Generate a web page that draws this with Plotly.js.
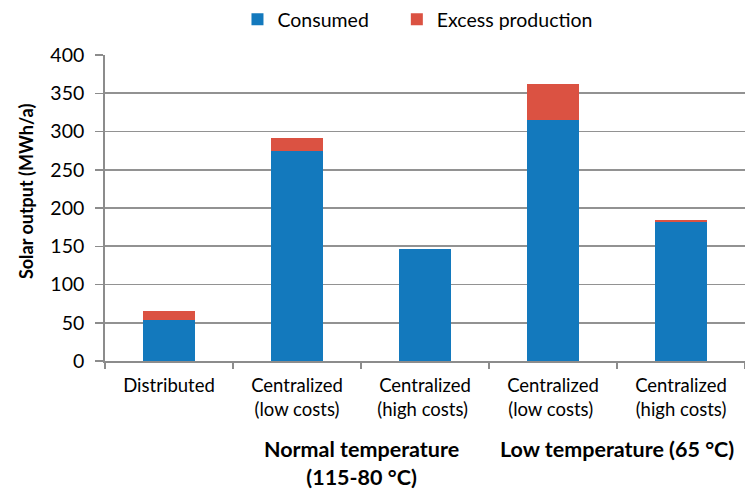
<!DOCTYPE html>
<html>
<head>
<meta charset="utf-8">
<script src="https://cdn.plot.ly/plotly-3.0.1.min.js"></script>
<style>html,body{margin:0;padding:0;background:#fff}#chart{width:745px;height:489px}</style>
</head>
<body>
<div id="chart"></div>
<script>
const categories = ["Distributed", "Centralized<br>(low costs)", "Centralized<br>(high costs) ", "Centralized<br>(low costs) ", "Centralized<br>(high costs)"];
const consumed = [53, 275, 147, 315, 182];
const excess = [12, 17, 0, 47, 2];
const groupLabels = ["Normal temperature<br>(115-80 °C)", "Low temperature (65 °C)"];
const groupPositions = [1.5, 3.5];
const yTitle = "Solar output (MWh/a)";

const FONT = "Lato, 'Open Sans', sans-serif";

const traces = [
  {type: "bar", name: "Consumed", x: categories, y: consumed, marker: {color: "#1379BD"}, legend: "legend"},
  {type: "bar", name: "Excess production", x: categories, y: excess, marker: {color: "#DB5242"}, legend: "legend2"}
];

const annotations = groupLabels.map((t, i) => ({
  text: "<b>" + t + "</b>", x: groupPositions[i], xref: "x", y: 0, yref: "paper",
  yshift: -73, yanchor: "top", showarrow: false, font: {size: 21.5}, align: "center"
}));
annotations.push({
  text: "<b>" + yTitle + "</b>", textangle: -90, x: 0, xref: "paper", xshift: -79,
  y: 0.552, yref: "paper", showarrow: false, font: {size: 18}, xanchor: "center", yanchor: "middle"
});

const legendCommon = {orientation: "h", xanchor: "left", y: 1.117, yanchor: "middle", yref: "paper",
                      font: {size: 19.5}, itemwidth: 30, bgcolor: "rgba(0,0,0,0)"};

const layout = {
  width: 745, height: 489,
  margin: {l: 105, r: 0, t: 54, b: 128},
  barmode: "stack",
  bargap: 0.595,
  paper_bgcolor: "#fff", plot_bgcolor: "#fff",
  font: {family: FONT, size: 18, color: "#000"},
  showlegend: true,
  legend: Object.assign({}, legendCommon, {x: 0.207}),
  legend2: Object.assign({}, legendCommon, {x: 0.456}),
  xaxis: {
    type: "category",
    showline: true, linecolor: "#8c8c8c", linewidth: 1.8,
    ticks: "outside", tickson: "boundaries", ticklen: 6, tickcolor: "#8c8c8c", tickwidth: 1.5,
    tickfont: {size: 18.5}, ticklabelstandoff: 7, showgrid: false, fixedrange: true
  },
  yaxis: {
    range: [0, 400], dtick: 50, tick0: 0,
    showline: true, linecolor: "#8c8c8c", linewidth: 1.8,
    ticks: "outside", ticklen: 8, tickcolor: "#8c8c8c", tickwidth: 1.5,
    gridcolor: "#929292", gridwidth: 1.8, zeroline: false,
    tickfont: {size: 19.5}, ticklabelstandoff: 7
  },
  annotations: annotations
};

Plotly.newPlot("chart", traces, layout, {displayModeBar: false, staticPlot: true});
</script>
</body>
</html>
